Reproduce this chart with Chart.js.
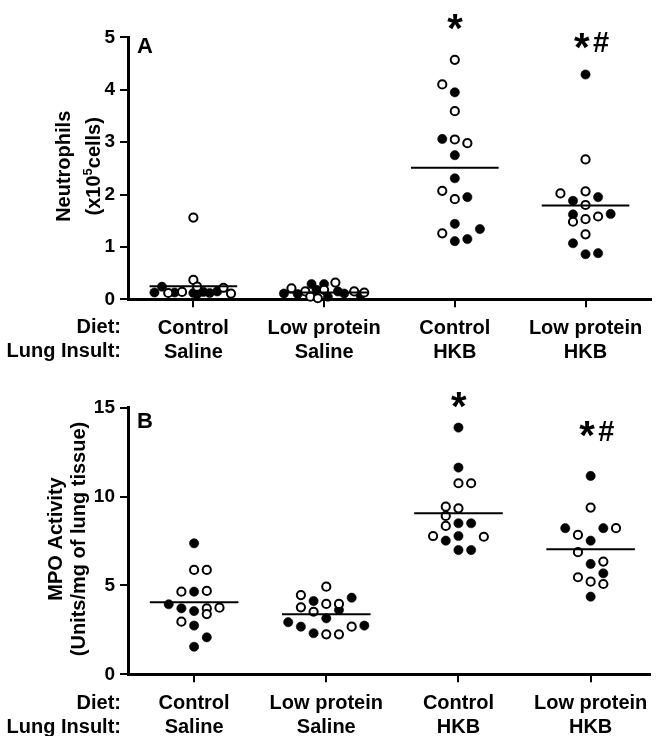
<!DOCTYPE html>
<html>
<head>
<meta charset="utf-8">
<script src="https://cdn.jsdelivr.net/npm/chart.js@4.4.1/dist/chart.umd.min.js"></script>
<style>
  html, body { margin: 0; padding: 0; background: #fff; }
  #wrap { position: relative; width: 657px; height: 736px; overflow: hidden; }
  canvas { position: absolute; left: 0; }
  #chart-a { top: 0; }
  #chart-b { top: 368px; }
</style>
</head>
<body>
<div id="wrap">
  <canvas id="chart-a" width="657" height="368"></canvas>
  <canvas id="chart-b" width="657" height="368"></canvas>
</div>
<script>
'use strict';

// ─── Data ─────────────────────────────────────────────────────────────────────

const categories = [['Control', 'Saline'], ['Low protein', 'Saline'], ['Control', 'HKB'], ['Low protein', 'HKB']];
const rowLabels  = ['Diet:', 'Lung Insult:'];

// Panel A – neutrophils (x10^5 cells)
const neutroTicks = [0, 1, 2, 3, 4, 5];
const neutroMeans = [0.25, 0.13, 2.51, 1.79];
const neutroValues = [
  [1.56, 0.37, 0.24, 0.24, 0.13, 0.12, 0.13, 0.14, 0.12, 0.10, 0.14, 0.12, 0.15, 0.22, 0.11],
  [0.11, 0.21, 0.10, 0.15, 0.05, 0.29, 0.18, 0.02, 0.29, 0.18, 0.05, 0.32, 0.15, 0.11, 0.15, 0.08, 0.13],
  [4.57, 4.10, 3.95, 3.59, 3.06, 3.05, 2.98, 2.75, 2.31, 2.07, 1.91, 1.95, 1.44, 1.34, 1.26, 1.11, 1.15],
  [4.29, 2.67, 2.02, 2.06, 1.88, 1.95, 1.80, 1.62, 1.48, 1.53, 1.58, 1.63, 1.24, 1.07, 0.86, 0.88],
];
const neutroOpen = [
  [1, 1, 1, 0, 0, 1, 0, 1, 0, 0, 0, 0, 0, 1, 1],
  [0, 1, 0, 1, 1, 0, 0, 1, 0, 1, 0, 1, 0, 0, 1, 0, 1],
  [1, 1, 0, 1, 0, 1, 1, 0, 0, 1, 1, 0, 0, 0, 1, 0, 0],
  [0, 1, 1, 1, 0, 0, 1, 0, 1, 1, 1, 0, 1, 0, 0, 0],
];
const neutroSlot = [
  [0, 0, 0.3, -2.5, -3.1, -2, -1.5, -0.9, 0, 0.3, 0.8, 1.3, 1.9, 2.4, 3],
  [-3.2, -2.6, -2.1, -1.5, -1.1, -1, -0.6, -0.5, 0, 0, 0.3, 0.9, 1.1, 1.6, 2.4, 2.9, 3.2],
  [0, -1, 0, 0, -1, 0, 1, 0, 0, -1, 0, 1, 0, 2, -1, 0, 1],
  [0, 0, -2, 0, -1, 1, 0, -1, -1, 0, 1, 2, 0, -1, 0, 1],
];
const neutroMarks  = ['', '', '*', '*#'];
const neutroMarkAt = [null, null, 5.29, 4.93];

// Panel B – MPO activity (units/mg of lung tissue)
const mpoTicks = [0, 5, 10, 15];
const mpoMeans = [4.05, 3.38, 9.06, 7.03];
const mpoValues = [
  [7.37, 5.87, 5.87, 4.65, 4.65, 4.69, 3.94, 3.71, 3.56, 3.71, 3.39, 3.75, 2.96, 2.74, 2.08, 1.55],
  [4.93, 4.46, 4.31, 4.12, 3.96, 3.96, 3.77, 3.52, 3.62, 3.15, 2.93, 2.68, 2.68, 2.74, 2.31, 2.25, 2.25],
  [13.88, 11.63, 10.75, 10.75, 9.43, 9.34, 8.91, 8.50, 8.50, 8.35, 7.78, 7.52, 7.78, 7.74, 6.99, 6.99],
  [11.16, 9.38, 8.22, 8.22, 8.22, 7.84, 7.52, 6.87, 6.21, 6.34, 5.68, 5.46, 5.21, 5.08, 4.37],
];
const mpoOpen = [
  [0, 1, 1, 1, 0, 1, 0, 0, 0, 1, 1, 1, 1, 0, 0, 0],
  [1, 1, 0, 0, 1, 1, 1, 1, 0, 0, 0, 0, 1, 0, 0, 1, 1],
  [0, 0, 1, 1, 1, 1, 1, 0, 0, 1, 1, 0, 0, 1, 0, 0],
  [0, 1, 0, 0, 1, 1, 0, 1, 0, 1, 0, 1, 1, 1, 0],
];
const mpoSlot = [
  [0, 0, 1, -1, 0, 1, -2, -1, 0, 1, 1, 2, -1, 0, 1, 0],
  [0, -2, 2, -1, 0, 1, -2, -1, 1, 0, -3, -2, 2, 3, -1, 0, 1],
  [0, 0, 0, 1, -1, 0, -1, 0, 1, -1, -2, -1, 0, 2, 0, 1],
  [0, 0, -2, 1, 2, -1, 0, -1, 0, 1, 1, -1, 0, 1, 0],
];
const mpoMarks  = ['', '', '*', '*#'];
const mpoMarkAt = [null, null, 15.44, 13.78];

// ─── Style ────────────────────────────────────────────────────────────────────

const FONT = "'Liberation Sans', Arial, Helvetica, sans-serif";
const SLOT = 0.096;       // horizontal spacing of scattered points (category units)
const HALF_LINE = 0.335;  // half width of mean bar

Chart.defaults.font.family = FONT;
Chart.defaults.color = '#000';

// ─── Helpers ──────────────────────────────────────────────────────────────────

function buildPoints(values, open, slots, wantOpen) {
  const pts = [];
  values.forEach((group, g) => {
    group.forEach((v, i) => {
      if (!!open[g][i] === wantOpen) pts.push({ x: g + 1 + slots[g][i] * SLOT, y: v });
    });
  });
  return pts;
}

function drawCentered(ctx, text, cx, cy) {
  const m = ctx.measureText(text);
  const x = cx - (m.actualBoundingBoxRight - m.actualBoundingBoxLeft) / 2;
  const y = cy + (m.actualBoundingBoxAscent - m.actualBoundingBoxDescent) / 2;
  ctx.fillText(text, x, y);
  return m.actualBoundingBoxRight + m.actualBoundingBoxLeft;
}

// extras: panel letter, row captions, y title, significance marks
const extrasPlugin = {
  id: 'extras',
  afterDraw(chart, args, opts) {
    const { ctx, chartArea, scales } = chart;
    ctx.save();
    ctx.fillStyle = '#000';
    ctx.textAlign = 'left';
    ctx.textBaseline = 'alphabetic';

    // letter
    ctx.font = `bold 22px ${FONT}`;
    ctx.fillText(opts.letter, 137, chartArea.top + opts.letterDy);

    // row captions
    ctx.font = `bold 20px ${FONT}`;
    ctx.textAlign = 'right';
    rowLabels.forEach((t, i) => {
      ctx.fillText(t, 121, chartArea.bottom + opts.rowDy + i * 24);
    });

    // y title (rotated)
    const cy = (chartArea.top + chartArea.bottom) / 2 - 2;
    opts.title.forEach((line, i) => {
      ctx.save();
      ctx.translate(opts.titleX[i], cy);
      ctx.rotate(-Math.PI / 2);
      ctx.textAlign = 'left';
      const parts = Array.isArray(line) ? line : [[line, 0]];
      let total = 0;
      parts.forEach(([t, sup]) => {
        ctx.font = sup ? `bold 13px ${FONT}` : `bold 20px ${FONT}`;
        total += ctx.measureText(t).width;
      });
      let x = -total / 2;
      parts.forEach(([t, sup]) => {
        ctx.font = sup ? `bold 13px ${FONT}` : `bold 20px ${FONT}`;
        ctx.fillText(t, x, sup ? -8 : 0);
        x += ctx.measureText(t).width;
      });
      ctx.restore();
    });

    // significance marks
    opts.marks.forEach((mark, g) => {
      if (!mark) return;
      const cx = scales.x.getPixelForValue(g + 1);
      const my = scales.y.getPixelForValue(opts.markAt[g]);
      const hasHash = mark.includes('#');
      ctx.textAlign = 'left';
      ctx.font = `bold 40px ${FONT}`;
      const starX = cx + (hasHash ? -3.5 : 0.5);
      const w = drawCentered(ctx, '*', starX, my);
      if (hasHash) {
        ctx.font = `bold 29px ${FONT}`;
        const mh = ctx.measureText('#');
        const hw = mh.actualBoundingBoxRight + mh.actualBoundingBoxLeft;
        drawCentered(ctx, '#', starX + w / 2 + 3 + hw / 2, my + 1.3);
      }
    });
    ctx.restore();
  },
};

function makeChart(canvas, p) {
  const datasets = [];
  p.means.forEach((m, g) => {
    datasets.push({
      type: 'line',
      data: [{ x: g + 1 - HALF_LINE, y: m }, { x: g + 1 + HALF_LINE, y: m }],
      borderColor: '#000',
      borderWidth: 2,
      pointRadius: 0,
      order: 0,
      clip: false,
    });
  });
  datasets.push({
    type: 'scatter',
    data: buildPoints(p.values, p.open, p.slots, false),
    backgroundColor: '#000',
    borderColor: '#000',
    borderWidth: 0.6,
    pointRadius: 4.6,
    order: 2,
    clip: false,
  });
  datasets.push({
    type: 'scatter',
    data: buildPoints(p.values, p.open, p.slots, true),
    backgroundColor: '#fff',
    borderColor: '#000',
    borderWidth: 2,
    pointRadius: 4.1,
    order: 1,
    clip: false,
  });

  const axisGrid = { drawOnChartArea: false, drawTicks: true, tickLength: 8, color: '#000', lineWidth: 2 };
  const axisBorder = { color: '#000', width: 3 };

  return new Chart(canvas, {
    data: { datasets },
    options: {
      responsive: false,
      animation: false,
      events: [],
      layout: { padding: { top: p.top, left: 0, right: 0, bottom: 0 } },
      scales: {
        x: {
          type: 'linear',
          min: 0.5,
          max: p.xMax,
          afterBuildTicks: s => { s.ticks = [1, 2, 3, 4].map(v => ({ value: v })); },
          afterFit: s => { s.height = p.axisHeight; },
          ticks: {
            callback: v => categories[v - 1] || '',
            font: { size: 20, weight: 'bold', lineHeight: 1.2 },
            color: '#000',
            padding: 9,
            maxRotation: 0,
            autoSkip: false,
          },
          grid: axisGrid,
          border: axisBorder,
        },
        y: {
          type: 'linear',
          min: 0,
          max: p.ticks[p.ticks.length - 1],
          afterBuildTicks: s => { s.ticks = p.ticks.map(v => ({ value: v })); },
          afterFit: s => { s.width = 128; },
          ticks: {
            font: { size: 19, weight: 'bold' },
            color: '#000',
            padding: 5,
          },
          grid: axisGrid,
          border: axisBorder,
        },
      },
      plugins: {
        legend: { display: false },
        tooltip: { enabled: false },
        extras: {
          letter: p.letter,
          letterDy: p.letterDy,
          rowDy: p.rowDy,
          title: p.title,
          titleX: p.titleX,
          marks: p.marks,
          markAt: p.markAt,
        },
      },
    },
    plugins: [extrasPlugin],
  });
}

// ─── Init ─────────────────────────────────────────────────────────────────────

makeChart(document.getElementById('chart-a'), {
  values: neutroValues, open: neutroOpen, slots: neutroSlot, means: neutroMeans,
  ticks: neutroTicks, marks: neutroMarks, markAt: neutroMarkAt,
  top: 37.3, axisHeight: 68.7, xMax: 4.5,
  letter: 'A', letterDy: 15.7, rowDy: 34,
  title: ['Neutrophils', [['(x10', 0], ['5', 1], ['cells)', 0]]],
  titleX: [70, 100],
});

makeChart(document.getElementById('chart-b'), {
  values: mpoValues, open: mpoOpen, slots: mpoSlot, means: mpoMeans,
  ticks: mpoTicks, marks: mpoMarks, markAt: mpoMarkAt,
  top: 39.7, axisHeight: 61.7, xMax: 4.45,
  letter: 'B', letterDy: 20.6, rowDy: 35,
  title: ['MPO Activity', '(Units/mg of lung tissue)'],
  titleX: [62, 84.5],
});
</script>
</body>
</html>
